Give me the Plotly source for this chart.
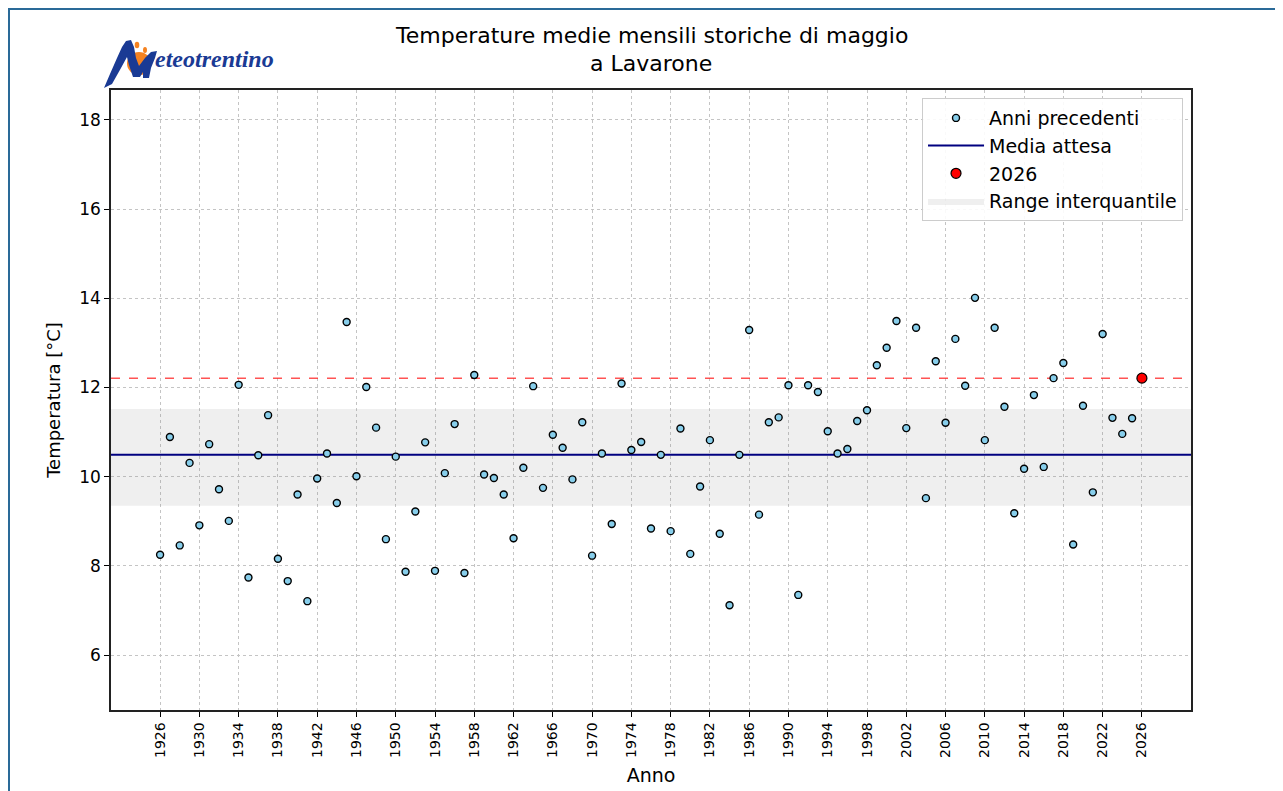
import plotly.graph_objects as go

years = list(range(1926, 2026))
temps = [8.25, 10.89, 8.46, 10.31, 8.91, 10.73, 9.72, 9.01, 12.06, 7.74,
         10.48, 11.38, 8.16, 7.66, 9.60, 7.21, 9.96, 10.52, 9.41, 13.47,
         10.01, 12.01, 11.10, 8.60, 10.45, 7.87, 9.22, 10.77, 7.89, 10.08,
         11.18, 7.84, 12.28, 10.05, 9.97, 9.60, 8.62, 10.20, 12.03, 9.75,
         10.94, 10.65, 9.94, 11.22, 8.23, 10.52, 8.94, 12.09, 10.60, 10.78,
         8.84, 10.49, 8.78, 11.08, 8.27, 9.78, 10.82, 8.72, 7.12, 10.49,
         13.29, 9.15, 11.22, 11.33, 12.05, 7.35, 12.05, 11.90, 11.02, 10.52,
         10.62, 11.25, 11.49, 12.50, 12.89, 13.49, 11.09, 13.34, 9.52, 12.59,
         11.21, 13.09, 12.04, 14.01, 10.82, 13.34, 11.57, 9.18, 10.18, 11.83,
         10.22, 12.21, 12.55, 8.48, 11.59, 9.65, 13.20, 11.32, 10.96, 11.31]
current_year = [2026]
current_temp = [12.21]
media_attesa = 10.49
q_low = 9.35
q_high = 11.52
x_range = [1921, 2031]
y_range = [4.77, 18.67]
x_ticks = list(range(1926, 2027, 4))
y_ticks = list(range(6, 19, 2))
title_lines = ["Temperature medie mensili storiche di maggio", "a Lavarone"]

# layout geometry (pixels); page body has an 8px margin
OFF = 8
W, H = 1275, 783
L, R, T, B = 103, 92, 82, 81
pw, ph = W - L - R, H - T - B


def px(x):
    """screen x -> paper x"""
    return (x - OFF - L) / pw


def py(y):
    """screen y -> paper y"""
    return 1 - (y - OFF - T) / ph


fig = go.Figure()

# interquantile band
fig.add_trace(go.Scatter(
    x=[x_range[0], x_range[1], x_range[1], x_range[0], x_range[0]],
    y=[q_low, q_low, q_high, q_high, q_low],
    fill="toself", fillcolor="rgba(128,128,128,0.13)",
    line=dict(width=0), mode="lines", name="Range interquantile",
    legendrank=4, hoverinfo="skip"))

# mean line
fig.add_trace(go.Scatter(
    x=x_range, y=[media_attesa, media_attesa], mode="lines",
    line=dict(color="#000080", width=2), name="Media attesa", legendrank=2))

# current-year dashed line
fig.add_trace(go.Scatter(
    x=x_range, y=[current_temp[0], current_temp[0]], mode="lines",
    line=dict(color="rgba(255,40,40,0.8)", width=1.5, dash="dash"),
    showlegend=False, hoverinfo="skip"))

# previous years
fig.add_trace(go.Scatter(
    x=years, y=temps, mode="markers", name="Anni precedenti",
    marker=dict(color="#87ceeb", size=7, line=dict(color="black", width=1.4)),
    legendrank=1))

# current year
fig.add_trace(go.Scatter(
    x=current_year, y=current_temp, mode="markers", name="2026",
    marker=dict(color="#ff0000", size=10, line=dict(color="black", width=1.2)),
    legendrank=3))

font_main = "DejaVu Sans, Verdana, sans-serif"

fig.update_layout(
    width=W, height=H,
    margin=dict(l=L, r=R, t=T, b=B, autoexpand=False),
    paper_bgcolor="white", plot_bgcolor="white",
    font=dict(family=font_main, color="black", size=14),
    legend=dict(x=0.9926, y=0.987, xanchor="right", yanchor="top",
                bgcolor="rgba(255,255,255,0.9)", bordercolor="#cccccc",
                borderwidth=1, font=dict(size=19, family=font_main),
                traceorder="normal", tracegroupgap=0, itemwidth=56),
    showlegend=True,
)

# two-line title
for text, yc in zip(title_lines, [35, 64]):
    fig.add_annotation(xref="paper", yref="paper", x=0.5, y=py(yc),
                       xanchor="center", yanchor="middle", showarrow=False,
                       borderpad=0, text=text,
                       font=dict(size=22, family=font_main))

fig.update_xaxes(
    range=x_range, tickvals=x_ticks, ticktext=[str(v) for v in x_ticks],
    tickangle=-90, ticks="outside", ticklen=5, tickcolor="black",
    showgrid=True, gridcolor="#c4c4c4", griddash="dot", gridwidth=1,
    showline=True, linecolor="#222222", linewidth=1.5, mirror=True,
    zeroline=False, tickfont=dict(size=14), automargin=False,
    title=dict(text="Anno", font=dict(size=19), standoff=12))

fig.update_yaxes(
    range=y_range, tickvals=y_ticks, ticks="outside", ticklen=5,
    tickcolor="black", showgrid=True, gridcolor="#c4c4c4", griddash="dot",
    gridwidth=1, showline=True, linecolor="#222222", linewidth=1.5,
    mirror=True, zeroline=False, tickfont=dict(size=17), automargin=False,
    title=dict(text="Temperatura [°C]", font=dict(size=18), standoff=14))

# outer blue frame
fig.add_shape(type="rect", xref="paper", yref="paper",
              x0=px(9), x1=px(1300), y0=py(810), y1=py(9),
              line=dict(color="#2a6a98", width=2), fillcolor="rgba(0,0,0,0)",
              layer="above")

# logo: sun rays and sun
for (cx, cy, r) in [(128, 45, 2.3), (137, 45, 2.3), (145, 50, 2.0)]:
    fig.add_shape(type="circle", xref="paper", yref="paper",
                  x0=px(cx - r), x1=px(cx + r), y0=py(cy + r + 1), y1=py(cy - r - 1),
                  line=dict(width=0), fillcolor="#f58220", layer="above")
fig.add_shape(type="circle", xref="paper", yref="paper",
              x0=px(127), x1=px(151), y0=py(75), y1=py(52),
              line=dict(width=0), fillcolor="#f58220", layer="above")

# logo: blue swoosh "M"
m_pts = [(104, 88), (110, 74), (117, 58), (122, 47), (126, 41), (131, 40),
         (134, 47), (136, 58), (139, 66), (145, 58), (151, 52), (157, 51),
         (155, 58), (151, 68), (149, 78), (143, 78), (143, 72), (140, 77),
         (133, 77), (129, 65), (127, 57), (121, 68), (112, 84)]
path = "M " + " L ".join(f"{px(x):.5f},{py(y):.5f}" for x, y in m_pts) + " Z"
fig.add_shape(type="path", xref="paper", yref="paper", path=path,
              fillcolor="#1a3a94", line=dict(width=0), layer="above")

fig.add_annotation(xref="paper", yref="paper", x=px(153), y=py(74),
                   xanchor="left", yanchor="bottom", showarrow=False,
                   text="<b><i>eteotrentino</i></b>",
                   font=dict(size=24, color="#1a3a94", family="Liberation Serif"))

fig.write_html("out.html")
